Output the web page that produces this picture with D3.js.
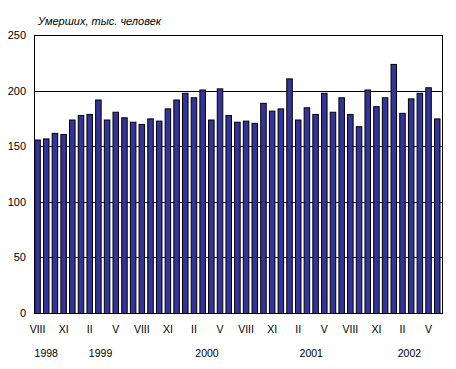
<!DOCTYPE html>
<html><head><meta charset="utf-8">
<script src="https://cdn.jsdelivr.net/npm/d3@7"></script>
<style>body{margin:0;background:#fff}svg{display:block}text{font-family:"Liberation Sans",Arial,sans-serif}</style>
</head><body><svg id="c" width="456" height="369"></svg>
<script>
const months = ["VIII","IX","X","XI","XII","I","II","III","IV","V","VI","VII",
 "VIII","IX","X","XI","XII","I","II","III","IV","V","VI","VII",
 "VIII","IX","X","XI","XII","I","II","III","IV","V","VI","VII",
 "VIII","IX","X","XI","XII","I","II","III","IV","V","VI"];
const deaths = [156,157,162,161,174,178,179,192,174,181,
 176,172,170,175,173,184,192,198,194,201,
 174,202,178,172,173,171,189,182,184,211,
 174,185,179,198,181,194,179,168,201,186,
 194,224,180,193,198,203,175];
const years = ["1998","1999","2000","2001","2002"];
const yearAnchor = [1, 7.25, 19.5, 31.5, 42.8];
const yTicks = [0,50,100,150,200,250];
const title = "Умерших, тыс. человек";

const svg = d3.select("#c");
const L=34,R=442,T=35,B=313;
const idx = d3.range(deaths.length);
const x = d3.scaleBand().domain(idx).range([L+0.3,R-1.5]).paddingInner(0.25).paddingOuter(0);
const y = d3.scaleLinear().domain([0,250]).range([B,T]);

svg.append("g").selectAll("line").data(yTicks).join("line")
 .attr("x1",L).attr("x2",R).attr("y1",d=>Math.round(y(d))+0.5).attr("y2",d=>Math.round(y(d))+0.5)
 .attr("stroke","#000").attr("stroke-width",1);
svg.append("rect").attr("x",L+0.5).attr("y",T+0.5).attr("width",R-L).attr("height",B-T)
 .attr("fill","none").attr("stroke","#000");

svg.append("g").selectAll("rect").data(idx).join("rect")
 .attr("x",i=>x(i)+0.5).attr("width",x.bandwidth()-1)
 .attr("y",i=>y(deaths[i])+0.5).attr("height",i=>B-y(deaths[i]))
 .attr("fill","#333399").attr("stroke","#000").attr("stroke-width",1);

svg.append("g").selectAll("text").data(yTicks).join("text")
 .attr("x",26).attr("y",d=>y(d)+4).attr("text-anchor","end")
 .attr("font-size",11).text(d=>d);

svg.append("g").selectAll("text").data(idx.filter(i=>i%3===0)).join("text")
 .attr("x",i=>x(i)+x.bandwidth()/2).attr("y",333).attr("text-anchor","middle")
 .attr("font-size",10.5).text(i=>months[i]);

const step = x.step();
svg.append("g").selectAll("text").data(years).join("text")
 .attr("x",(d,k)=>x(0)+x.bandwidth()/2+yearAnchor[k]*step).attr("y",357).attr("text-anchor","middle")
 .attr("font-size",10.5).text(d=>d);

svg.append("text").attr("x",38).attr("y",25).attr("font-size",11).attr("font-style","italic").text(title);
</script></body></html>
